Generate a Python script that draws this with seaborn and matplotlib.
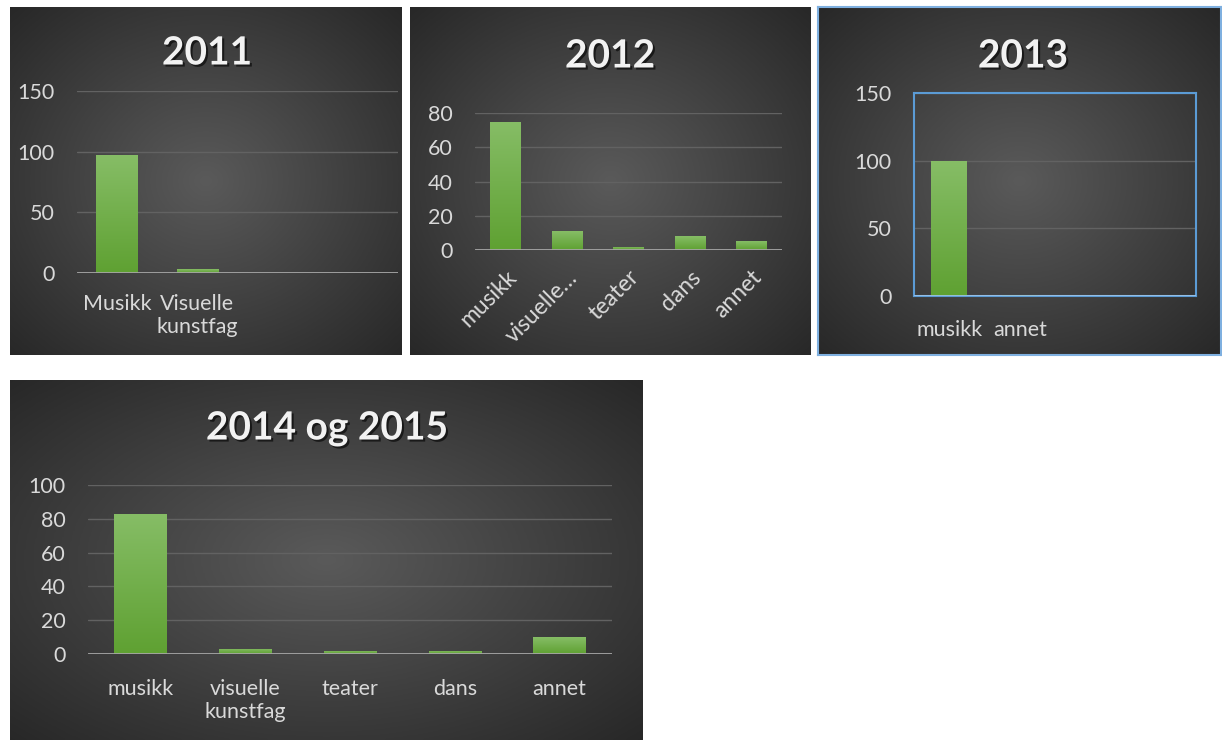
import numpy as np
import pandas as pd
import matplotlib.pyplot as plt
import matplotlib.patheffects as pe
import seaborn as sns
from matplotlib.colors import LinearSegmentedColormap

# Data (andel i prosent per kategori)
kat_2011 = ["Musikk", "Visuelle\nkunstfag"]
verdi_2011 = [97, 3]
kat_2012 = ["musikk", "visuelle…", "teater", "dans", "annet"]
verdi_2012 = [75, 11, 2, 8, 5]
kat_2013 = ["musikk", "annet"]
verdi_2013 = [99.5, 0.5]
kat_2014 = ["musikk", "visuelle\nkunstfag", "teater", "dans", "annet"]
verdi_2014 = [83, 3, 2, 2, 10]

sns.set_theme(style="dark")
plt.rcParams['font.family'] = ['Lato', 'DejaVu Sans']

W, H = 1222, 740
fig = plt.figure(figsize=(W / 100, H / 100), dpi=100)
fig.patch.set_facecolor('white')


def box(x0, y0, x1, y1):
    # pikselkoordinater -> figurkoordinater
    return [x0 / W, 1 - y1 / H, (x1 - x0) / W, (y1 - y0) / H]


bg_cmap = LinearSegmentedColormap.from_list('bg', ['#5a5a5a', '#272727'])
bar_cmap = LinearSegmentedColormap.from_list('bar', ['#5fa132', '#86bd66'])
yy, xx = np.mgrid[0:1:200j, 0:1:200j]
rr = np.clip(np.sqrt((xx - 0.5) ** 2 + (yy - 0.5) ** 2) / 0.72, 0, 1)


def panel(rect, border=None):
    bg = fig.add_axes(box(*rect))
    bg.imshow(rr, cmap=bg_cmap, vmin=0, vmax=1, extent=[0, 1, 0, 1], aspect='auto')
    bg.set_xticks([])
    bg.set_yticks([])
    for s in bg.spines.values():
        if border:
            s.set_color(border)
            s.set_linewidth(1.5)
        else:
            s.set_visible(False)


def chart(rect, cats, vals, order, yticks, width, xpad=14, rot=False, frame=None):
    ax = fig.add_axes(box(*rect))
    ax.set_facecolor('none')
    df = pd.DataFrame({'kat': cats, 'verdi': vals})
    sns.barplot(data=df, x='kat', y='verdi', order=order, color='#70ad47',
                width=width, errorbar=None, ax=ax, zorder=3,
                edgecolor='none', linewidth=0)
    # gradient i stolpene
    grad = np.linspace(0, 1, 100).reshape(-1, 1)
    for p in list(ax.patches):
        x0, y0 = p.get_x(), p.get_y()
        w, h = p.get_width(), p.get_height()
        if h <= 0 or np.isnan(h):
            continue
        im = ax.imshow(grad, cmap=bar_cmap, extent=[x0, x0 + w, y0, y0 + h],
                       origin='lower', aspect='auto', zorder=4)
        im.set_clip_path(p)
    ax.set_xlim(-0.5, len(order) - 0.5)
    ax.set_ylim(0, yticks[-1])
    ax.set_yticks(yticks)
    ax.set_xlabel('')
    ax.set_ylabel('')
    ax.yaxis.grid(True, color='#626262', lw=1)
    ax.xaxis.grid(False)
    ax.set_axisbelow(True)
    ax.tick_params(axis='y', colors='#d9d9d9', labelsize=15.5, length=0, pad=16)
    ax.tick_params(axis='x', colors='#d9d9d9', labelsize=15.5, length=0, pad=xpad)
    if rot:
        plt.setp(ax.get_xticklabels(), rotation=45, ha='right', rotation_mode='anchor',
                 fontsize=16.5)
    if frame:
        for s in ax.spines.values():
            s.set_color(frame)
            s.set_linewidth(1.5)
        ax.axhline(0, color='#9dc3e6', lw=2, zorder=5)
    else:
        for s in ax.spines.values():
            s.set_visible(False)
        ax.axhline(0, color='#a6a6a6', lw=2, zorder=5)
    return ax


def title(x, y, txt):
    fig.text(x / W, 1 - y / H, txt, ha='center', va='center', fontsize=28,
             fontweight='bold', color='#f2f2f2',
             path_effects=[pe.SimplePatchShadow(offset=(1.5, -1.5), shadow_rgbFace='black', alpha=0.6),
                           pe.Normal()])


# 2011
panel((10, 7, 402, 355))
chart((77, 91, 398, 273), kat_2011, verdi_2011, kat_2011 + [" ", "  "],
      [0, 50, 100, 150], 0.52, xpad=15)
title(207, 53, "2011")

# 2012
panel((410, 7, 810, 355))
chart((475, 113, 782, 250), kat_2012, verdi_2012, kat_2012,
      [0, 20, 40, 60, 80], 0.5, xpad=12, rot=True)
title(610, 56, "2012")

# 2013
panel((818, 7, 1221, 355), border='#7fb0e0')
chart((914, 93, 1196, 296), kat_2013, verdi_2013, kat_2013 + [" ", "  "],
      [0, 50, 100, 150], 0.51, xpad=17, frame='#5b9bd5')
title(1023, 56, "2013")

# 2014 og 2015
panel((10, 380, 643, 740))
chart((88, 485, 612, 654), kat_2014, verdi_2014, kat_2014,
      [0, 20, 40, 60, 80, 100], 0.5, xpad=18)
title(327, 428, "2014 og 2015")

plt.savefig('out.png', dpi=100, facecolor='white')
